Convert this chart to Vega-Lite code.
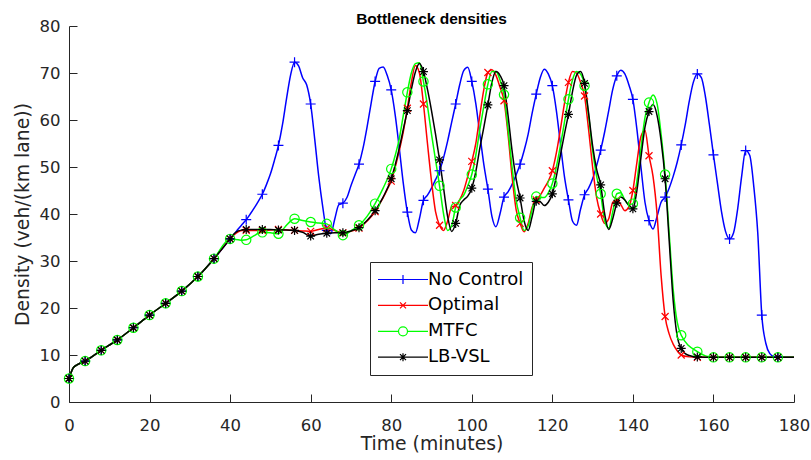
{
  "$schema": "https://vega.github.io/schema/vega-lite/v6.json",
  "width": 725,
  "height": 376,
  "autosize": "none",
  "padding": {"left": 69, "top": 26, "right": 17, "bottom": 58},
  "background": "white",
  "title": {"text": "Bottleneck densities", "font": "Liberation Sans", "fontSize": 15.5, "fontWeight": "bold", "anchor": "middle", "offset": -9, "color": "black"},
  "config": {
    "view": {"stroke": null},
    "axis": {"grid": false, "labelFlush": false, "domainColor": "#262626", "tickColor": "#262626", "domainWidth": 1, "tickWidth": 1, "labelFont": "DejaVu Sans", "labelFontSize": 16.5, "labelColor": "#262626", "titleFont": "DejaVu Sans", "titleFontSize": 18.8, "titleFontWeight": "normal", "titleColor": "#262626"}
  },
  "data": {"values": [
{"s":"No Control","t":0,"v":5},{"s":"No Control","t":1,"v":7.2},{"s":"No Control","t":2,"v":7.9},{"s":"No Control","t":4,"v":8.7},{"s":"No Control","t":8,"v":11},{"s":"No Control","t":12,"v":13.2},{"s":"No Control","t":16,"v":15.8},{"s":"No Control","t":20,"v":18.5},{"s":"No Control","t":24,"v":21},{"s":"No Control","t":28,"v":23.6},{"s":"No Control","t":32,"v":26.7},{"s":"No Control","t":36,"v":30.5},{"s":"No Control","t":40,"v":34.7},
{"s":"No Control","t":41,"v":35.7},{"s":"No Control","t":42,"v":36.8},{"s":"No Control","t":43,"v":37.8},{"s":"No Control","t":44,"v":38.8},{"s":"No Control","t":45,"v":40},{"s":"No Control","t":46,"v":41.3},{"s":"No Control","t":47,"v":42.7},{"s":"No Control","t":48,"v":44.2},{"s":"No Control","t":49,"v":46.2},{"s":"No Control","t":50,"v":48.5},{"s":"No Control","t":51,"v":51.4},{"s":"No Control","t":52,"v":54.6},{"s":"No Control","t":53,"v":59},{"s":"No Control","t":54,"v":64.5},{"s":"No Control","t":55,"v":69.5},{"s":"No Control","t":56,"v":72.3},{"s":"No Control","t":57,"v":71.5},{"s":"No Control","t":58,"v":69},{"s":"No Control","t":59,"v":67.5},{"s":"No Control","t":60,"v":63.4},{"s":"No Control","t":61,"v":56},{"s":"No Control","t":62,"v":48},{"s":"No Control","t":63,"v":41.5},{"s":"No Control","t":64,"v":36.5},{"s":"No Control","t":65,"v":35.8},{"s":"No Control","t":66,"v":39},{"s":"No Control","t":67,"v":42},{"s":"No Control","t":68,"v":42.3},{"s":"No Control","t":69,"v":43.5},{"s":"No Control","t":70,"v":46},{"s":"No Control","t":71,"v":48.3},{"s":"No Control","t":72,"v":50.6},{"s":"No Control","t":73,"v":54},{"s":"No Control","t":74,"v":58.5},{"s":"No Control","t":75,"v":63.5},{"s":"No Control","t":76,"v":68.2},{"s":"No Control","t":77,"v":71},{"s":"No Control","t":78,"v":71.3},{"s":"No Control","t":79,"v":69.5},{"s":"No Control","t":80,"v":66.4},{"s":"No Control","t":81,"v":61},{"s":"No Control","t":82,"v":54},{"s":"No Control","t":83,"v":46.5},{"s":"No Control","t":84,"v":40.4},{"s":"No Control","t":85,"v":36.6},{"s":"No Control","t":86,"v":36},{"s":"No Control","t":87,"v":39},{"s":"No Control","t":88,"v":42.9},{"s":"No Control","t":89,"v":44},{"s":"No Control","t":90,"v":45.5},{"s":"No Control","t":91,"v":47.3},{"s":"No Control","t":92,"v":49.2},{"s":"No Control","t":93,"v":52},{"s":"No Control","t":94,"v":55.5},{"s":"No Control","t":95,"v":59.5},{"s":"No Control","t":96,"v":63.4},{"s":"No Control","t":97,"v":67.5},{"s":"No Control","t":98,"v":70.5},{"s":"No Control","t":99,"v":71.2},{"s":"No Control","t":100,"v":68.2},{"s":"No Control","t":101,"v":63.5},{"s":"No Control","t":102,"v":57},{"s":"No Control","t":103,"v":50.5},{"s":"No Control","t":104,"v":45.3},{"s":"No Control","t":105,"v":39.5},{"s":"No Control","t":106,"v":37.3},{"s":"No Control","t":107,"v":40},{"s":"No Control","t":108,"v":43.6},{"s":"No Control","t":109,"v":44.7},{"s":"No Control","t":110,"v":46.3},{"s":"No Control","t":111,"v":48.3},{"s":"No Control","t":112,"v":50.6},{"s":"No Control","t":113,"v":53.5},{"s":"No Control","t":114,"v":57},{"s":"No Control","t":115,"v":61.5},{"s":"No Control","t":116,"v":65.5},{"s":"No Control","t":117,"v":69},{"s":"No Control","t":118,"v":70.8},{"s":"No Control","t":119,"v":69.8},{"s":"No Control","t":120,"v":67.3},{"s":"No Control","t":121,"v":62},{"s":"No Control","t":122,"v":55},{"s":"No Control","t":123,"v":48},{"s":"No Control","t":124,"v":43},{"s":"No Control","t":125,"v":38.5},{"s":"No Control","t":126,"v":37.6},{"s":"No Control","t":127,"v":41},{"s":"No Control","t":128,"v":44.1},{"s":"No Control","t":129,"v":45.5},{"s":"No Control","t":130,"v":47.5},{"s":"No Control","t":131,"v":50.3},{"s":"No Control","t":132,"v":53.6},{"s":"No Control","t":133,"v":57.5},{"s":"No Control","t":134,"v":62},{"s":"No Control","t":135,"v":66.5},{"s":"No Control","t":136,"v":69.4},{"s":"No Control","t":137,"v":70.6},{"s":"No Control","t":138,"v":69.8},{"s":"No Control","t":139,"v":67.5},{"s":"No Control","t":140,"v":64.4},{"s":"No Control","t":141,"v":58},{"s":"No Control","t":142,"v":50},{"s":"No Control","t":143,"v":42.5},{"s":"No Control","t":144,"v":38.6},{"s":"No Control","t":145,"v":36.8},{"s":"No Control","t":146,"v":39.5},{"s":"No Control","t":147,"v":42.5},{"s":"No Control","t":148,"v":43.6},{"s":"No Control","t":149,"v":45.5},{"s":"No Control","t":150,"v":48},{"s":"No Control","t":151,"v":51},{"s":"No Control","t":152,"v":54.7},{"s":"No Control","t":153,"v":59},{"s":"No Control","t":154,"v":64},{"s":"No Control","t":155,"v":68},{"s":"No Control","t":156,"v":69.8},{"s":"No Control","t":157,"v":69},{"s":"No Control","t":158,"v":65},{"s":"No Control","t":159,"v":59},{"s":"No Control","t":160,"v":52.6},{"s":"No Control","t":161,"v":46.5},{"s":"No Control","t":162,"v":40.5},{"s":"No Control","t":163,"v":36.3},{"s":"No Control","t":164,"v":34.7},{"s":"No Control","t":165,"v":36},{"s":"No Control","t":166,"v":41},{"s":"No Control","t":167,"v":48},{"s":"No Control","t":168,"v":53.5},{"s":"No Control","t":169,"v":52.5},{"s":"No Control","t":170,"v":46},{"s":"No Control","t":171,"v":36},{"s":"No Control","t":172,"v":18.5},{"s":"No Control","t":173,"v":12.5},{"s":"No Control","t":174,"v":10.3},{"s":"No Control","t":175,"v":9.7},{"s":"No Control","t":176,"v":9.6},{"s":"No Control","t":177,"v":9.5},{"s":"No Control","t":180,"v":9.5},
{"s":"Optimal","t":0,"v":5},{"s":"Optimal","t":1,"v":7.2},{"s":"Optimal","t":2,"v":7.9},{"s":"Optimal","t":4,"v":8.7},{"s":"Optimal","t":8,"v":11},{"s":"Optimal","t":12,"v":13.2},{"s":"Optimal","t":16,"v":15.8},{"s":"Optimal","t":20,"v":18.5},{"s":"Optimal","t":24,"v":21},{"s":"Optimal","t":28,"v":23.6},{"s":"Optimal","t":32,"v":26.7},{"s":"Optimal","t":36,"v":30.5},{"s":"Optimal","t":40,"v":34.7},
{"s":"Optimal","t":41,"v":35.6},{"s":"Optimal","t":42,"v":36.2},{"s":"Optimal","t":43,"v":36.5},{"s":"Optimal","t":44,"v":36.5},{"s":"Optimal","t":46,"v":36.5},{"s":"Optimal","t":48,"v":36.5},{"s":"Optimal","t":50,"v":36.6},{"s":"Optimal","t":52,"v":36.7},{"s":"Optimal","t":54,"v":36.6},{"s":"Optimal","t":56,"v":36.5},{"s":"Optimal","t":58,"v":36.4},{"s":"Optimal","t":60,"v":36.3},{"s":"Optimal","t":62,"v":36.7},{"s":"Optimal","t":64,"v":37},{"s":"Optimal","t":66,"v":36.5},{"s":"Optimal","t":68,"v":36},{"s":"Optimal","t":70,"v":36.3},{"s":"Optimal","t":72,"v":37},{"s":"Optimal","t":74,"v":38.5},{"s":"Optimal","t":76,"v":40.5},{"s":"Optimal","t":77,"v":42},{"s":"Optimal","t":78,"v":43.5},{"s":"Optimal","t":79,"v":45.2},{"s":"Optimal","t":80,"v":47},{"s":"Optimal","t":81,"v":50},{"s":"Optimal","t":82,"v":53.5},{"s":"Optimal","t":83,"v":57.5},{"s":"Optimal","t":84,"v":62.5},{"s":"Optimal","t":85,"v":68},{"s":"Optimal","t":86,"v":71.6},{"s":"Optimal","t":87,"v":70},{"s":"Optimal","t":88,"v":63.4},{"s":"Optimal","t":89,"v":55},{"s":"Optimal","t":90,"v":47},{"s":"Optimal","t":91,"v":40.5},{"s":"Optimal","t":92,"v":37.6},{"s":"Optimal","t":93,"v":36.5},{"s":"Optimal","t":94,"v":38.5},{"s":"Optimal","t":95,"v":41.5},{"s":"Optimal","t":96,"v":41.8},{"s":"Optimal","t":97,"v":43},{"s":"Optimal","t":98,"v":45},{"s":"Optimal","t":99,"v":48},{"s":"Optimal","t":100,"v":51.2},{"s":"Optimal","t":101,"v":55},{"s":"Optimal","t":102,"v":61},{"s":"Optimal","t":103,"v":66.5},{"s":"Optimal","t":104,"v":70.1},{"s":"Optimal","t":105,"v":70.7},{"s":"Optimal","t":106,"v":69.5},{"s":"Optimal","t":107,"v":67},{"s":"Optimal","t":108,"v":64.1},{"s":"Optimal","t":109,"v":57},{"s":"Optimal","t":110,"v":48},{"s":"Optimal","t":111,"v":41},{"s":"Optimal","t":112,"v":38},{"s":"Optimal","t":113,"v":36.2},{"s":"Optimal","t":114,"v":38},{"s":"Optimal","t":115,"v":41.5},{"s":"Optimal","t":116,"v":43},{"s":"Optimal","t":117,"v":44},{"s":"Optimal","t":118,"v":45.5},{"s":"Optimal","t":119,"v":47},{"s":"Optimal","t":120,"v":49.2},{"s":"Optimal","t":121,"v":53},{"s":"Optimal","t":122,"v":58},{"s":"Optimal","t":123,"v":63.5},{"s":"Optimal","t":124,"v":68},{"s":"Optimal","t":125,"v":70.3},{"s":"Optimal","t":126,"v":70},{"s":"Optimal","t":127,"v":68},{"s":"Optimal","t":128,"v":65.1},{"s":"Optimal","t":129,"v":58},{"s":"Optimal","t":130,"v":50},{"s":"Optimal","t":131,"v":43.5},{"s":"Optimal","t":132,"v":40},{"s":"Optimal","t":133,"v":38},{"s":"Optimal","t":134,"v":39},{"s":"Optimal","t":135,"v":42.5},{"s":"Optimal","t":136,"v":43},{"s":"Optimal","t":137,"v":42},{"s":"Optimal","t":138,"v":40.7},{"s":"Optimal","t":139,"v":41.5},{"s":"Optimal","t":140,"v":45},{"s":"Optimal","t":141,"v":51},{"s":"Optimal","t":142,"v":56.5},{"s":"Optimal","t":143,"v":57.8},{"s":"Optimal","t":144,"v":52.4},{"s":"Optimal","t":145,"v":48},{"s":"Optimal","t":146,"v":40},{"s":"Optimal","t":147,"v":27},{"s":"Optimal","t":148,"v":18.2},{"s":"Optimal","t":149,"v":14.5},{"s":"Optimal","t":150,"v":12.3},{"s":"Optimal","t":151,"v":10.9},{"s":"Optimal","t":152,"v":10},{"s":"Optimal","t":154,"v":9.6},{"s":"Optimal","t":156,"v":9.5},{"s":"Optimal","t":160,"v":9.5},{"s":"Optimal","t":164,"v":9.5},{"s":"Optimal","t":168,"v":9.5},{"s":"Optimal","t":172,"v":9.5},{"s":"Optimal","t":176,"v":9.5},{"s":"Optimal","t":180,"v":9.5},
{"s":"MTFC","t":0,"v":5},{"s":"MTFC","t":1,"v":7.2},{"s":"MTFC","t":2,"v":7.9},{"s":"MTFC","t":4,"v":8.7},{"s":"MTFC","t":8,"v":11},{"s":"MTFC","t":12,"v":13.2},{"s":"MTFC","t":16,"v":15.8},{"s":"MTFC","t":20,"v":18.5},{"s":"MTFC","t":24,"v":21},{"s":"MTFC","t":28,"v":23.6},{"s":"MTFC","t":32,"v":26.7},{"s":"MTFC","t":36,"v":30.5},{"s":"MTFC","t":40,"v":34.7},
{"s":"MTFC","t":41,"v":34.6},{"s":"MTFC","t":42,"v":34.5},{"s":"MTFC","t":43,"v":34.4},{"s":"MTFC","t":44,"v":34.5},{"s":"MTFC","t":45,"v":34.9},{"s":"MTFC","t":46,"v":35.4},{"s":"MTFC","t":47,"v":35.9},{"s":"MTFC","t":48,"v":36.1},{"s":"MTFC","t":50,"v":36},{"s":"MTFC","t":52,"v":35.8},{"s":"MTFC","t":53,"v":36.6},{"s":"MTFC","t":54,"v":37.6},{"s":"MTFC","t":55,"v":38.5},{"s":"MTFC","t":56,"v":39},{"s":"MTFC","t":58,"v":38.6},{"s":"MTFC","t":60,"v":38.3},{"s":"MTFC","t":62,"v":38.1},{"s":"MTFC","t":64,"v":37.9},{"s":"MTFC","t":66,"v":36.6},{"s":"MTFC","t":68,"v":35.5},{"s":"MTFC","t":70,"v":36.4},{"s":"MTFC","t":72,"v":37.6},{"s":"MTFC","t":74,"v":39.5},{"s":"MTFC","t":76,"v":42.2},{"s":"MTFC","t":78,"v":45.5},{"s":"MTFC","t":80,"v":49.6},{"s":"MTFC","t":81,"v":52.5},{"s":"MTFC","t":82,"v":56},{"s":"MTFC","t":83,"v":61},{"s":"MTFC","t":84,"v":65.9},{"s":"MTFC","t":85,"v":70},{"s":"MTFC","t":86,"v":72},{"s":"MTFC","t":87,"v":72.2},{"s":"MTFC","t":88,"v":68.2},{"s":"MTFC","t":89,"v":63},{"s":"MTFC","t":90,"v":57},{"s":"MTFC","t":91,"v":51.5},{"s":"MTFC","t":92,"v":46},{"s":"MTFC","t":93,"v":40},{"s":"MTFC","t":94,"v":36.5},{"s":"MTFC","t":95,"v":37.5},{"s":"MTFC","t":96,"v":41.4},{"s":"MTFC","t":97,"v":43},{"s":"MTFC","t":98,"v":44},{"s":"MTFC","t":99,"v":46},{"s":"MTFC","t":100,"v":48.4},{"s":"MTFC","t":101,"v":52.5},{"s":"MTFC","t":102,"v":58},{"s":"MTFC","t":103,"v":63},{"s":"MTFC","t":104,"v":67.6},{"s":"MTFC","t":105,"v":70.3},{"s":"MTFC","t":106,"v":70.3},{"s":"MTFC","t":107,"v":68.5},{"s":"MTFC","t":108,"v":65.4},{"s":"MTFC","t":109,"v":58},{"s":"MTFC","t":110,"v":50},{"s":"MTFC","t":111,"v":43},{"s":"MTFC","t":112,"v":39.2},{"s":"MTFC","t":113,"v":36.5},{"s":"MTFC","t":114,"v":37.5},{"s":"MTFC","t":115,"v":41},{"s":"MTFC","t":116,"v":43.7},{"s":"MTFC","t":117,"v":43.5},{"s":"MTFC","t":118,"v":43.5},{"s":"MTFC","t":119,"v":44.5},{"s":"MTFC","t":120,"v":46.5},{"s":"MTFC","t":121,"v":50},{"s":"MTFC","t":122,"v":54.5},{"s":"MTFC","t":123,"v":59.5},{"s":"MTFC","t":124,"v":64.4},{"s":"MTFC","t":125,"v":68.5},{"s":"MTFC","t":126,"v":70.3},{"s":"MTFC","t":127,"v":69.8},{"s":"MTFC","t":128,"v":67.3},{"s":"MTFC","t":129,"v":61},{"s":"MTFC","t":130,"v":53.5},{"s":"MTFC","t":131,"v":48},{"s":"MTFC","t":132,"v":44.3},{"s":"MTFC","t":133,"v":38.5},{"s":"MTFC","t":134,"v":37},{"s":"MTFC","t":135,"v":40.5},{"s":"MTFC","t":136,"v":44.3},{"s":"MTFC","t":137,"v":44.5},{"s":"MTFC","t":138,"v":43},{"s":"MTFC","t":139,"v":42},{"s":"MTFC","t":140,"v":42.2},{"s":"MTFC","t":141,"v":47},{"s":"MTFC","t":142,"v":54},{"s":"MTFC","t":143,"v":60.5},{"s":"MTFC","t":144,"v":63.7},{"s":"MTFC","t":145,"v":65.3},{"s":"MTFC","t":146,"v":63.5},{"s":"MTFC","t":147,"v":57},{"s":"MTFC","t":148,"v":48.4},{"s":"MTFC","t":149,"v":36},{"s":"MTFC","t":150,"v":24},{"s":"MTFC","t":151,"v":17},{"s":"MTFC","t":152,"v":14.2},{"s":"MTFC","t":156,"v":10.7},{"s":"MTFC","t":160,"v":9.5},{"s":"MTFC","t":164,"v":9.5},{"s":"MTFC","t":168,"v":9.5},{"s":"MTFC","t":172,"v":9.5},{"s":"MTFC","t":176,"v":9.5},{"s":"MTFC","t":180,"v":9.5},
{"s":"LB-VSL","t":0,"v":5},{"s":"LB-VSL","t":1,"v":7.2},{"s":"LB-VSL","t":2,"v":7.9},{"s":"LB-VSL","t":4,"v":8.7},{"s":"LB-VSL","t":8,"v":11},{"s":"LB-VSL","t":12,"v":13.2},{"s":"LB-VSL","t":16,"v":15.8},{"s":"LB-VSL","t":20,"v":18.5},{"s":"LB-VSL","t":24,"v":21},{"s":"LB-VSL","t":28,"v":23.6},{"s":"LB-VSL","t":32,"v":26.7},{"s":"LB-VSL","t":36,"v":30.5},{"s":"LB-VSL","t":40,"v":34.7},
{"s":"LB-VSL","t":41,"v":35.8},{"s":"LB-VSL","t":42,"v":36.4},{"s":"LB-VSL","t":43,"v":36.6},{"s":"LB-VSL","t":44,"v":36.7},{"s":"LB-VSL","t":46,"v":36.7},{"s":"LB-VSL","t":48,"v":36.7},{"s":"LB-VSL","t":50,"v":36.7},{"s":"LB-VSL","t":52,"v":36.6},{"s":"LB-VSL","t":54,"v":36.6},{"s":"LB-VSL","t":56,"v":36.5},{"s":"LB-VSL","t":58,"v":36.1},{"s":"LB-VSL","t":60,"v":35.3},{"s":"LB-VSL","t":62,"v":35.7},{"s":"LB-VSL","t":64,"v":35.9},{"s":"LB-VSL","t":66,"v":36},{"s":"LB-VSL","t":68,"v":36},{"s":"LB-VSL","t":70,"v":36.4},{"s":"LB-VSL","t":72,"v":37.1},{"s":"LB-VSL","t":74,"v":38.6},{"s":"LB-VSL","t":76,"v":40.7},{"s":"LB-VSL","t":78,"v":43.6},{"s":"LB-VSL","t":80,"v":47.5},{"s":"LB-VSL","t":81,"v":50.5},{"s":"LB-VSL","t":82,"v":54},{"s":"LB-VSL","t":83,"v":58},{"s":"LB-VSL","t":84,"v":62},{"s":"LB-VSL","t":85,"v":66.5},{"s":"LB-VSL","t":86,"v":70.2},{"s":"LB-VSL","t":87,"v":72},{"s":"LB-VSL","t":88,"v":70.3},{"s":"LB-VSL","t":89,"v":66.5},{"s":"LB-VSL","t":90,"v":62},{"s":"LB-VSL","t":91,"v":57},{"s":"LB-VSL","t":92,"v":51.5},{"s":"LB-VSL","t":93,"v":45.5},{"s":"LB-VSL","t":94,"v":39.5},{"s":"LB-VSL","t":95,"v":36.3},{"s":"LB-VSL","t":96,"v":38},{"s":"LB-VSL","t":97,"v":41.8},{"s":"LB-VSL","t":98,"v":43},{"s":"LB-VSL","t":99,"v":43.8},{"s":"LB-VSL","t":100,"v":45.5},{"s":"LB-VSL","t":101,"v":49},{"s":"LB-VSL","t":102,"v":54},{"s":"LB-VSL","t":103,"v":58.5},{"s":"LB-VSL","t":104,"v":63.2},{"s":"LB-VSL","t":105,"v":68},{"s":"LB-VSL","t":106,"v":70.3},{"s":"LB-VSL","t":107,"v":69.5},{"s":"LB-VSL","t":108,"v":67.3},{"s":"LB-VSL","t":109,"v":61},{"s":"LB-VSL","t":110,"v":53.5},{"s":"LB-VSL","t":111,"v":47.5},{"s":"LB-VSL","t":112,"v":43.4},{"s":"LB-VSL","t":113,"v":38.5},{"s":"LB-VSL","t":114,"v":36.5},{"s":"LB-VSL","t":115,"v":39.5},{"s":"LB-VSL","t":116,"v":42.7},{"s":"LB-VSL","t":117,"v":42.6},{"s":"LB-VSL","t":118,"v":41.8},{"s":"LB-VSL","t":119,"v":42.5},{"s":"LB-VSL","t":120,"v":44.3},{"s":"LB-VSL","t":121,"v":48},{"s":"LB-VSL","t":122,"v":52.5},{"s":"LB-VSL","t":123,"v":57},{"s":"LB-VSL","t":124,"v":61.2},{"s":"LB-VSL","t":125,"v":66},{"s":"LB-VSL","t":126,"v":69.5},{"s":"LB-VSL","t":127,"v":70.3},{"s":"LB-VSL","t":128,"v":67.8},{"s":"LB-VSL","t":129,"v":61.5},{"s":"LB-VSL","t":130,"v":54.5},{"s":"LB-VSL","t":131,"v":49.5},{"s":"LB-VSL","t":132,"v":46.2},{"s":"LB-VSL","t":133,"v":40},{"s":"LB-VSL","t":134,"v":36.7},{"s":"LB-VSL","t":135,"v":39},{"s":"LB-VSL","t":136,"v":42.3},{"s":"LB-VSL","t":137,"v":43.6},{"s":"LB-VSL","t":138,"v":43},{"s":"LB-VSL","t":139,"v":41.8},{"s":"LB-VSL","t":140,"v":41.1},{"s":"LB-VSL","t":141,"v":45},{"s":"LB-VSL","t":142,"v":52},{"s":"LB-VSL","t":143,"v":58.5},{"s":"LB-VSL","t":144,"v":61.8},{"s":"LB-VSL","t":145,"v":63.3},{"s":"LB-VSL","t":146,"v":61},{"s":"LB-VSL","t":147,"v":55.6},{"s":"LB-VSL","t":148,"v":47.5},{"s":"LB-VSL","t":149,"v":34.5},{"s":"LB-VSL","t":150,"v":21.6},{"s":"LB-VSL","t":151,"v":14},{"s":"LB-VSL","t":152,"v":11.4},{"s":"LB-VSL","t":153,"v":10.3},{"s":"LB-VSL","t":154,"v":9.9},{"s":"LB-VSL","t":156,"v":9.6},{"s":"LB-VSL","t":160,"v":9.5},{"s":"LB-VSL","t":164,"v":9.5},{"s":"LB-VSL","t":168,"v":9.5},{"s":"LB-VSL","t":172,"v":9.5},{"s":"LB-VSL","t":176,"v":9.5},{"s":"LB-VSL","t":180,"v":9.5}
  ]},
  "encoding": {
    "x": {"field": "t", "type": "quantitative", "scale": {"domain": [0, 180], "nice": false}, "axis": {"title": "Time (minutes)", "values": [0,20,40,60,80,100,120,140,160,180], "tickSize": -8, "labelPadding": 23, "titlePadding": 1}},
    "y": {"field": "v", "type": "quantitative", "scale": {"domain": [0, 80], "nice": false}, "axis": {"title": "Density (veh/(km lane))", "values": [0,10,20,30,40,50,60,70,80], "tickSize": -8, "labelPadding": 17, "titlePadding": 7}}
  },
  "layer": [
    {
      "mark": {"type": "line", "interpolate": "monotone", "strokeWidth": 1.5},
      "encoding": {
        "color": {"field": "s", "type": "nominal", "sort": null,
          "scale": {"domain": ["No Control", "Optimal", "MTFC", "LB-VSL"], "range": ["#0000FF", "#FF0000", "#00FF00", "#000000"]},
          "legend": {"title": null, "orient": "none", "legendX": 301, "legendY": 236, "padding": 8.5, "rowPadding": 7.9,
            "fillColor": "white", "strokeColor": "#262626", "labelFont": "DejaVu Sans", "labelFontSize": 18, "labelColor": "black",
            "symbolSize": 100, "symbolStrokeWidth": 1.2, "symbolOffset": 15.5, "labelOffset": 16,
            "encode": {"symbols": {"update": {
              "shape": {"signal": "datum.value == 'No Control' ? 'M-5,0H5M0,-0.9V0.9' : datum.value == 'Optimal' ? 'M-5,0H5M-0.6,-0.6L0.6,0.6M-0.6,0.6L0.6,-0.6' : datum.value == 'MTFC' ? 'M-5,0H-0.9M0.9,0H5M0.9,0A0.9,0.9 0 1,1 -0.9,0A0.9,0.9 0 1,1 0.9,0' : 'M-5,0H5M0,-0.8V0.8M-0.6,-0.6L0.6,0.6M-0.6,0.6L0.6,-0.6'"},
              "fill": {"value": "transparent"}
            }}}
          }
        }
      }
    },
    {
      "transform": [{"filter": "datum.s == 'No Control' && datum.t % 4 == 0 && datum.t <= 176"}],
      "mark": {"type": "point", "filled": false, "strokeWidth": 1.2, "size": 100, "opacity": 1, "color": "#0000FF", "shape": "M-1,0H1M0,-1V1"}
    },
    {
      "transform": [{"filter": "datum.s == 'Optimal' && datum.t % 4 == 0 && datum.t <= 176"}],
      "mark": {"type": "point", "filled": false, "strokeWidth": 1.2, "size": 100, "opacity": 1, "color": "#FF0000", "shape": "M-0.7,-0.7L0.7,0.7M-0.7,0.7L0.7,-0.7"}
    },
    {
      "transform": [{"filter": "datum.s == 'MTFC' && datum.t % 4 == 0 && datum.t <= 176"}],
      "mark": {"type": "point", "filled": false, "strokeWidth": 1.2, "size": 100, "opacity": 1, "color": "#00FF00", "shape": "M0.93,0A0.93,0.93 0 1,1 -0.93,0A0.93,0.93 0 1,1 0.93,0Z"}
    },
    {
      "transform": [{"filter": "datum.s == 'LB-VSL' && datum.t % 4 == 0 && datum.t <= 176"}],
      "mark": {"type": "point", "filled": false, "strokeWidth": 1.2, "size": 100, "opacity": 1, "color": "#000000", "shape": "M-0.9,0H0.9M0,-0.9V0.9M-0.65,-0.65L0.65,0.65M-0.65,0.65L0.65,-0.65"}
    }
  ]
}
